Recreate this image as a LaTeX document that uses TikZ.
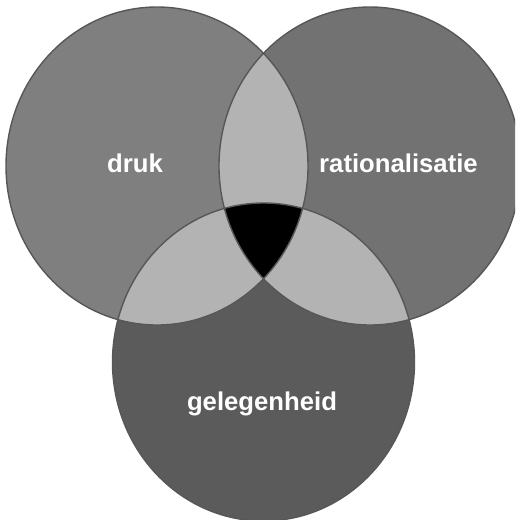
\documentclass[tikz,border=0pt]{standalone}
\usepackage{fontspec}
\setmainfont{Liberation Sans}
\definecolor{cL}{HTML}{7F7F7F}
\definecolor{cR}{HTML}{727272}
\definecolor{cB}{HTML}{5B5B5B}
\definecolor{cLens}{HTML}{B3B3B3}
\definecolor{cLine}{HTML}{575757}
\begin{document}
\begin{tikzpicture}[x=1pt,y=-1pt,
  lbl/.style={text=white,font=\fontsize{25.7}{30}\selectfont\bfseries,anchor=base,inner sep=0pt},
  rim/.style={draw=cLine,line width=1.4pt}]
\useasboundingbox (0,0) rectangle (515,520);
\clip (0,0) rectangle (515,520);
\coordinate (L) at (157,166);
\coordinate (R) at (370,166);
\coordinate (B) at (263.5,362);
\tikzset{ell/.style={x radius=151,y radius=159}}
\fill[cL] (L) ellipse [ell];
\fill[cR] (R) ellipse [ell];
\fill[cB] (B) ellipse [ell];
\begin{scope}
  \clip (L) ellipse [ell];
  \fill[cLens] (R) ellipse [ell];
  \fill[cLens] (B) ellipse [ell];
\end{scope}
\begin{scope}
  \clip (R) ellipse [ell];
  \fill[cLens] (B) ellipse [ell];
\end{scope}
\begin{scope}
  \clip (L) ellipse [ell];
  \clip (R) ellipse [ell];
  \fill[black] (B) ellipse [ell];
\end{scope}
\draw[rim] (L) ellipse [ell];
\draw[rim] (R) ellipse [ell];
\draw[rim] (B) ellipse [ell];
\node[lbl] (druk) at (135,172.7) {druk};
\node[lbl] (rat) at (398.5,172.7) {rationalisatie};
\node[lbl] (gel) at (262,410) {gelegenheid};
\end{tikzpicture}
\end{document}
